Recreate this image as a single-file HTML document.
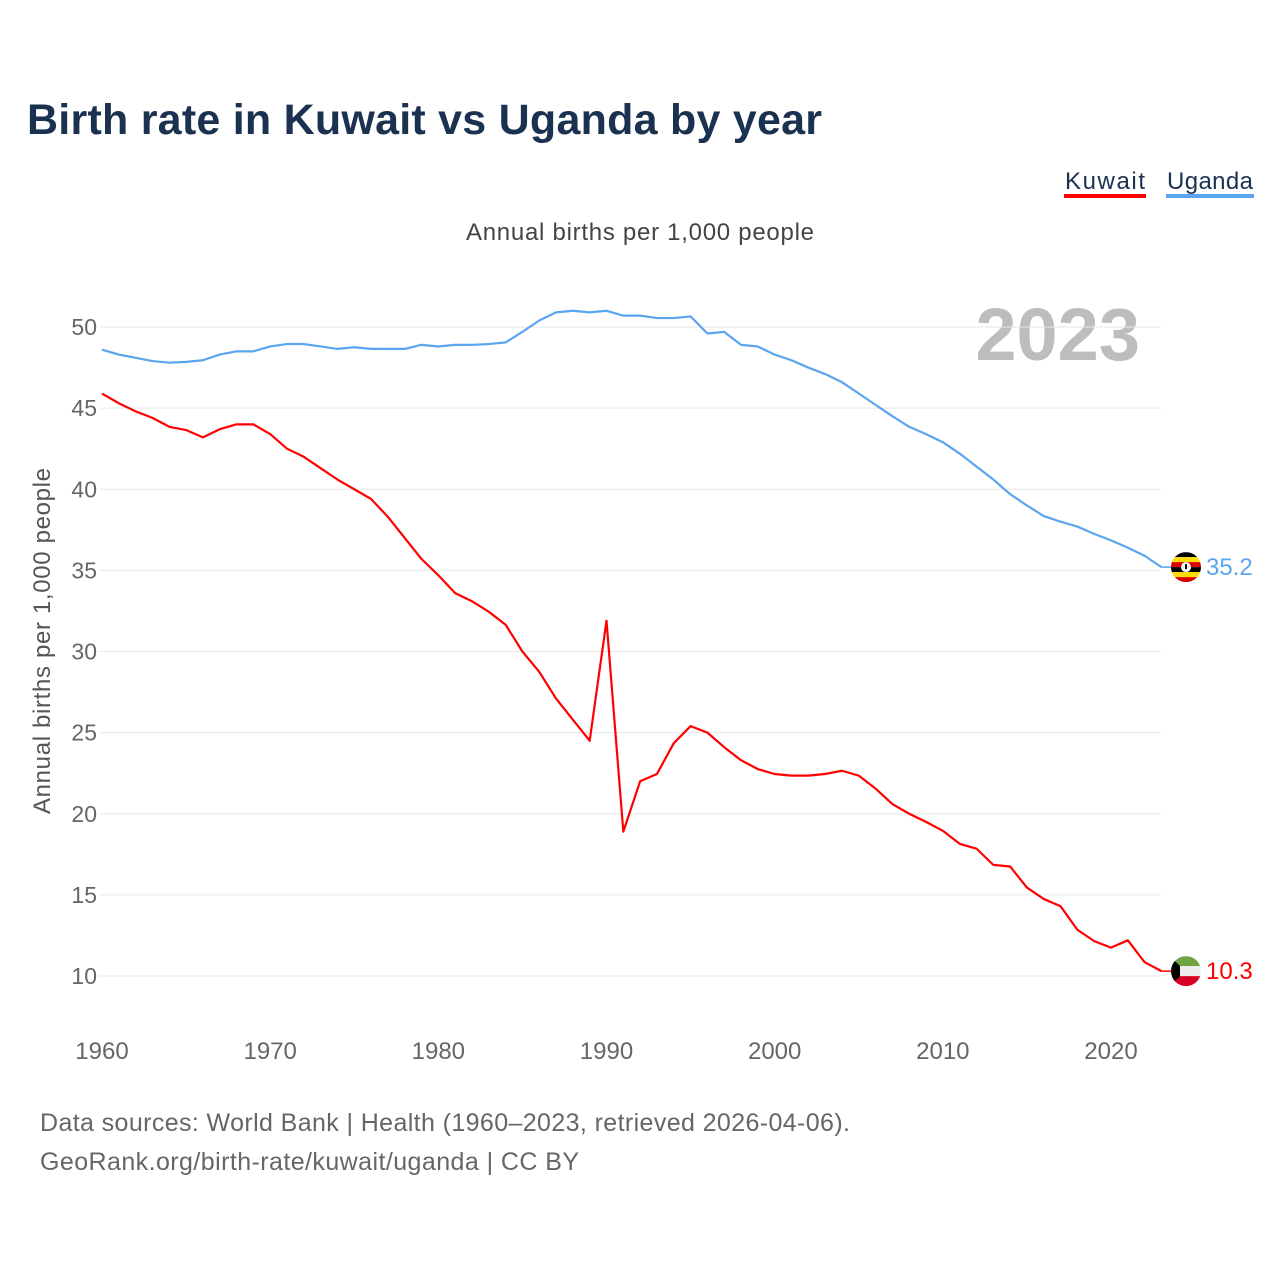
<!DOCTYPE html>
<html><head><meta charset="utf-8"><style>
body{margin:0;background:#fff;font-family:"Liberation Sans",sans-serif}
svg{display:block}
</style></head><body>
<svg id="chart" width="1280" height="1280" font-family="Liberation Sans, sans-serif">
<text x="27" y="134" font-size="43" font-weight="bold" fill="#1a3150" textLength="795">Birth rate in Kuwait vs Uganda by year</text>
<g><text x="1065" y="189" font-size="24" fill="#1a3150" textLength="80">Kuwait</text><rect x="1064" y="194" width="82" height="4" fill="#ff0000"/></g>
<g><text x="1167" y="189" font-size="24" fill="#1a3150" textLength="86">Uganda</text><rect x="1166" y="194" width="88" height="4" fill="#5aa5ee"/></g>
<text x="640" y="240" font-size="24" fill="#444" text-anchor="middle" textLength="348">Annual births per 1,000 people</text>
<text x="1140" y="360" font-size="74" font-weight="bold" fill="#bdbdbd" text-anchor="end">2023</text>
<text transform="translate(50,641) rotate(-90)" font-size="24" fill="#555" text-anchor="middle" textLength="346">Annual births per 1,000 people</text>
<g id="grid"></g><g id="yt"></g><g id="xt"></g><g id="lines"></g><g id="ends"></g>
<text x="40" y="1131" font-size="25" fill="#666" textLength="810">Data sources: World Bank | Health (1960–2023, retrieved 2026-04-06).</text>
<text x="40" y="1170" font-size="25" fill="#666" textLength="539">GeoRank.org/birth-rate/kuwait/uganda | CC BY</text>
</svg>
<script>
const years=[];for(let y=1960;y<=2023;y++)years.push(y);
const uganda=[48.6,48.3,48.1,47.9,47.8,47.85,47.95,48.3,48.5,48.5,48.8,48.95,48.95,48.8,48.65,48.75,48.65,48.65,48.65,48.9,48.8,48.9,48.9,48.95,49.05,49.7,50.4,50.9,51.0,50.9,51.0,50.7,50.7,50.55,50.55,50.65,49.6,49.7,48.9,48.8,48.3,47.95,47.5,47.1,46.6,45.9,45.2,44.5,43.85,43.4,42.9,42.2,41.4,40.6,39.7,39.0,38.35,38.0,37.7,37.25,36.85,36.4,35.9,35.2];
const kuwait=[45.9,45.3,44.8,44.4,43.85,43.65,43.2,43.7,44.0,44.0,43.4,42.5,42.0,41.3,40.6,40.0,39.4,38.3,37.0,35.7,34.7,33.6,33.1,32.45,31.65,30.0,28.75,27.1,25.8,24.5,31.9,18.9,22.0,22.45,24.35,25.4,25.0,24.1,23.3,22.75,22.45,22.35,22.35,22.45,22.65,22.35,21.55,20.6,20.0,19.5,18.95,18.15,17.85,16.85,16.75,15.45,14.75,14.3,12.85,12.15,11.75,12.2,10.85,10.3];
const yTicks=[10,15,20,25,30,35,40,45,50];
const xTicks=[1960,1970,1980,1990,2000,2010,2020];
const X=y=>102+(y-1960)*(1111-102)/60;
const Y=v=>976-(v-10)*(976-327)/40;
const NS="http://www.w3.org/2000/svg";
function mk(t,a,p){const e=document.createElementNS(NS,t);for(const k in a)e.setAttribute(k,a[k]);document.getElementById(p).appendChild(e);return e;}
yTicks.forEach(v=>{
 const l=mk('line',{x1:100,x2:1161,y1:Y(v),y2:Y(v),stroke:'#e6e6e6','stroke-width':1},'grid');
 
 
 const t=mk('text',{x:97,y:Y(v)+8,'font-size':23,fill:'#666','text-anchor':'end'},'yt');t.textContent=v;
 
 
});
xTicks.forEach(v=>{
 const t=mk('text',{x:X(v),y:1059,'font-size':24,fill:'#666','text-anchor':'middle'},'xt');t.textContent=v;
 
 
});
function line(d,c,n){
 const p=mk('polyline',{points:d.map((v,i)=>X(years[i])+','+Y(v)).join(' '),fill:'none',stroke:c,'stroke-width':2.2,'stroke-linejoin':'round'},'lines');
 
 
 const last=d[d.length-1],lx=X(years[years.length-1]);
 const t=mk('text',{x:1206,y:Y(last)+8,'font-size':24,fill:c},'ends');t.textContent=last.toFixed(1);
 
 
 mk('line',{x1:lx,x2:1172,y1:Y(last),y2:Y(last),stroke:c,'stroke-width':1.5},'ends');
 return Y(last);
}
const uy=line(uganda,'#5aa5ee','uganda-line');
const ky=line(kuwait,'#ff0000','kuwait-line');
const fu=mk('g',{},'ends');


fu.innerHTML=`<defs><clipPath id="cu"><circle cx="1186" cy="${uy}" r="15"/></clipPath><clipPath id="ck"><circle cx="1186" cy="${ky}" r="15"/></clipPath></defs>
<g clip-path="url(#cu)">${['#000','#fcdc04','#d90000','#000','#fcdc04','#d90000'].map((c,i)=>`<rect x="1170" y="${uy-15+i*5}" width="32" height="5" fill="${c}"/>`).join('')}<circle cx="1186" cy="${uy}" r="5" fill="#fff"/><rect x="1185" y="${uy-3}" width="2" height="5" fill="#000"/></g>`;
const fk=mk('g',{},'ends');


fk.innerHTML=`<g clip-path="url(#ck)"><rect x="1170" y="${ky-15}" width="32" height="10" fill="#6da544"/><rect x="1170" y="${ky-5}" width="32" height="10" fill="#eee"/><rect x="1170" y="${ky+5}" width="32" height="10" fill="#d80027"/><polygon points="1170,${ky-15} 1180,${ky-5} 1180,${ky+5} 1170,${ky+15}" fill="#000"/></g>`;
</script>
</body></html>
